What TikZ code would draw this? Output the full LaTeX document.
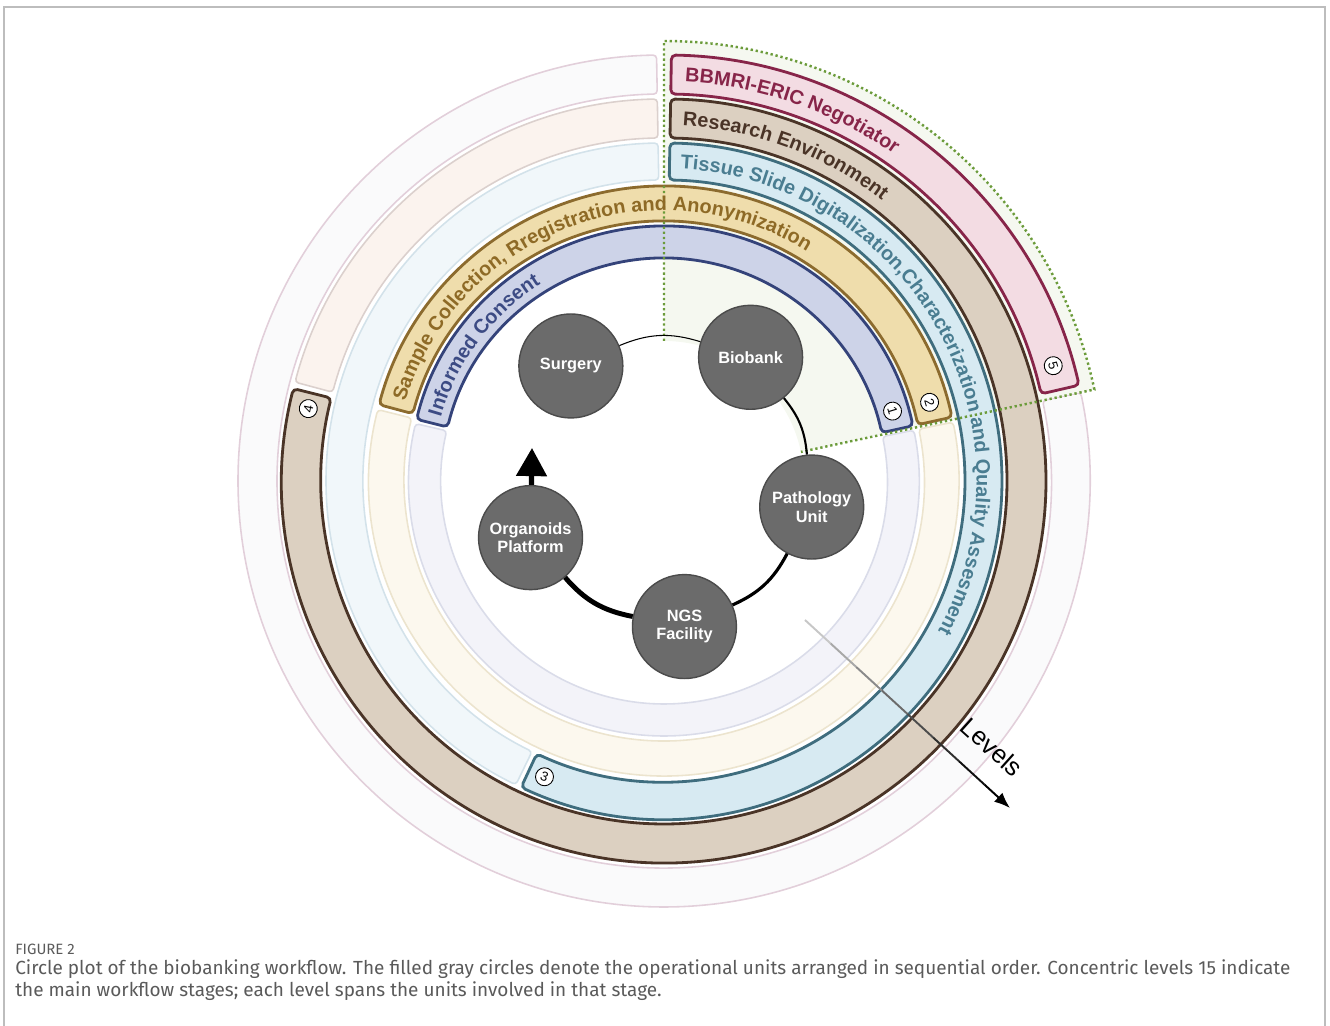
\documentclass[tikz,border=0pt]{standalone}
\usepackage{fontspec}
\setmainfont{Liberation Sans}
\newfontfamily\capfont{Fira Sans}
\usetikzlibrary{arrows.meta,decorations.text,calc}

\definecolor{lvAfill}{HTML}{CDD3E8}
\definecolor{lvAline}{HTML}{34437A}
\definecolor{lvAtext}{HTML}{3C4B84}
\definecolor{lvAghost}{HTML}{F3F3F9}
\definecolor{lvAghostline}{HTML}{DADCE9}
\definecolor{lvBfill}{HTML}{EFDDAC}
\definecolor{lvBline}{HTML}{8C6B2E}
\definecolor{lvBtext}{HTML}{8E6A26}
\definecolor{lvBghost}{HTML}{FCF8EE}
\definecolor{lvBghostline}{HTML}{ECE4CE}
\definecolor{lvCfill}{HTML}{D7EAF2}
\definecolor{lvCline}{HTML}{3F6D7E}
\definecolor{lvCtext}{HTML}{4A7D91}
\definecolor{lvCghost}{HTML}{F1F7FA}
\definecolor{lvCghostline}{HTML}{D3E2EA}
\definecolor{lvDfill}{HTML}{DCD0C1}
\definecolor{lvDline}{HTML}{4A3427}
\definecolor{lvDtext}{HTML}{4A3427}
\definecolor{lvDghost}{HTML}{FBF3EE}
\definecolor{lvDghostline}{HTML}{DBD0CD}
\definecolor{lvEfill}{HTML}{F3DCE3}
\definecolor{lvEline}{HTML}{872549}
\definecolor{lvEtext}{HTML}{872549}
\definecolor{lvEghost}{HTML}{FAFAFB}
\definecolor{lvEghostline}{HTML}{E2CFDA}
\definecolor{hullfill}{HTML}{F5F8F0}
\definecolor{hullline}{HTML}{6B9B3A}
\definecolor{unitfill}{HTML}{6B6B6B}
\definecolor{unitline}{HTML}{4B4B4B}
\definecolor{framegray}{HTML}{BDBDBD}
\definecolor{capgray}{HTML}{5A5A5A}

\newcommand{\arcfont}{\fontsize{11.3}{13}\selectfont\bfseries}

\tikzset{
    unit/.style={circle, draw=unitline, fill=unitfill, line width=0.8pt, minimum size=2.08cm,
        inner sep=0pt, text=white, align=center, font=\fontsize{9.3}{10.6}\selectfont\bfseries},
    badge/.style={circle, draw=black, fill=white, line width=0.5pt, minimum size=0.36cm,
        inner sep=0pt, font=\fontsize{7.5}{8}\selectfont},
    ghost/.style={line width=0.9pt, rounded corners=2pt},
    active/.style={line width=1.6pt, rounded corners=2.5pt},
    hull/.style={draw=hullline, line width=1.4pt, dash pattern=on 1.3pt off 1.6pt},
    caption/.style={anchor=base west, inner sep=0pt, text=capgray},
}

% band between two radii: inner, outer, start angle, end angle, style
\newcommand{\levelband}[5]{%
    \draw[#5] (#3:#1) arc[start angle=#3, end angle=#4, radius=#1]
        -- (#4:#2) arc[start angle=#4, end angle=#3, radius=#2] -- cycle;}
% text along a clockwise arc: radius, start, end, colour, text
\newcommand{\arclabel}[5]{%
    \path[decorate, decoration={text along path, text={|\arcfont\color{#4}|#5}}]
        (#2:#1) arc[start angle=#2, end angle=#3, radius=#1];}

\begin{document}
\begin{tikzpicture}[x=0.02cm, y=0.02cm]
    \useasboundingbox (-664,-545) rectangle (666,481);
    \draw[framegray, line width=0.7pt] (-660,-560) -- (-660,474) -- (661,474) -- (661,-560);

    % faded rest of each level
    \levelband{223}{255}{11.5}{-193}{ghost, draw=lvAghostline, fill=lvAghost}
    \levelband{260}{295}{11.5}{-194}{ghost, draw=lvBghostline, fill=lvBghost}
    \levelband{301}{338}{-116}{-269}{ghost, draw=lvCghostline, fill=lvCghost}
    \levelband{343}{382}{165}{91}{ghost, draw=lvDghostline, fill=lvDghost}
    \levelband{387}{426}{12}{-269}{ghost, draw=lvEghostline, fill=lvEghost}

    \fill[hullfill] (12:140) -- (12:440) arc[start angle=12, end angle=90, radius=440]
        -- (90:140) arc[start angle=90, end angle=12, radius=140] -- cycle;

    % levels
    \levelband{223}{255}{166}{12.5}{active, draw=lvAline, fill=lvAfill}
    \levelband{260}{295}{165}{12.5}{active, draw=lvBline, fill=lvBfill}
    \levelband{301}{338}{89}{-115}{active, draw=lvCline, fill=lvCfill}
    \levelband{343}{382}{89}{-194}{active, draw=lvDline, fill=lvDfill}
    \levelband{387}{426}{89}{13}{active, draw=lvEline, fill=lvEfill}

    \draw[hull] (90:140) -- (90:440) arc[start angle=90, end angle=12, radius=440] -- (12:140);

    \arclabel{232}{164}{100}{lvAtext}{Informed Consent}
    \arclabel{270.5}{163}{30}{lvBtext}{Sample Collection, Rregistration and Anonymization}
    \arclabel{312.5}{87}{-60}{lvCtext}{Tissue Slide Digitalization,Characterization and Quality Assesment}
    \arclabel{355.5}{87}{30}{lvDtext}{Research Environment}
    \arclabel{399.5}{87}{30}{lvEtext}{BBMRI-ERIC Negotiator}

    \node[badge, rotate=-73] (nA) at (17:239) {1};
    \node[badge, rotate=-73.5] (nB) at (16.5:277) {2};
    \node[badge, rotate=-22] (nC) at (-112:319) {3};
    \node[badge, rotate=78.5] (nD) at (168.5:363) {4};
    \node[badge, rotate=-73.5] (nE) at (16.5:406) {5};

    % units
    \node[unit] (surgery) at (129:148) {Surgery};
    \node[unit] (biobank) at (55:151) {Biobank};
    \node[unit] (pathology) at (-10:150) {Pathology\\Unit};
    \node[unit] (ngs) at (-82:147) {NGS\\Facility};
    \node[unit] (organoids) at (-157:145) {Organoids\\Platform};
    \coordinate (back) at (-132,33);

    \draw[line width=0.6pt] (surgery) to[bend left=20] (biobank);
    \draw[line width=1.2pt] (biobank) to[bend left=17] (pathology);
    \draw[line width=1.8pt] (pathology) to[bend left=19] (ngs);
    \draw[line width=2.8pt] (ngs) to[bend left=19] (organoids);
    \draw[line width=3pt, -{Triangle[width=17pt, length=16pt]}] (organoids) -- (back);

    % levels arrow, fading in
    \coordinate (lvfrom) at (141,-139);
    \coordinate (lvto) at (346,-327);
    \foreach \k in {1,...,7}{
        \pgfmathsetmacro\dark{10+12*\k}
        \pgfmathsetmacro\fa{(\k-1)/8}
        \pgfmathsetmacro\fb{\k/8}
        \draw[black!\dark, line width=1.1pt] ($(lvfrom)!\fa!(lvto)$) -- ($(lvfrom)!\fb!(lvto)$);
    }
    \draw[line width=1.1pt, -{Latex[length=9pt, width=7pt]}] ($(lvfrom)!0.875!(lvto)$) -- (lvto);
    \node[rotate=-42, font=\fontsize{14.5}{16}\selectfont] (lvlabel) at (328,-266) {Levels};

    \node[caption, font=\capfont\fontsize{8.5}{10}\selectfont] (figno) at (-649,-474) {FIGURE 2};
    \node[caption, font=\capfont\fontsize{10.8}{13}\selectfont] (capA) at (-649,-494)
        {Circle plot of the biobanking workflow. The filled gray circles denote the operational units arranged in sequential order. Concentric levels 15 indicate};
    \node[caption, font=\capfont\fontsize{10.8}{13}\selectfont] (capB) at (-649,-516)
        {the main workflow stages; each level spans the units involved in that stage.};
\end{tikzpicture}
\end{document}
